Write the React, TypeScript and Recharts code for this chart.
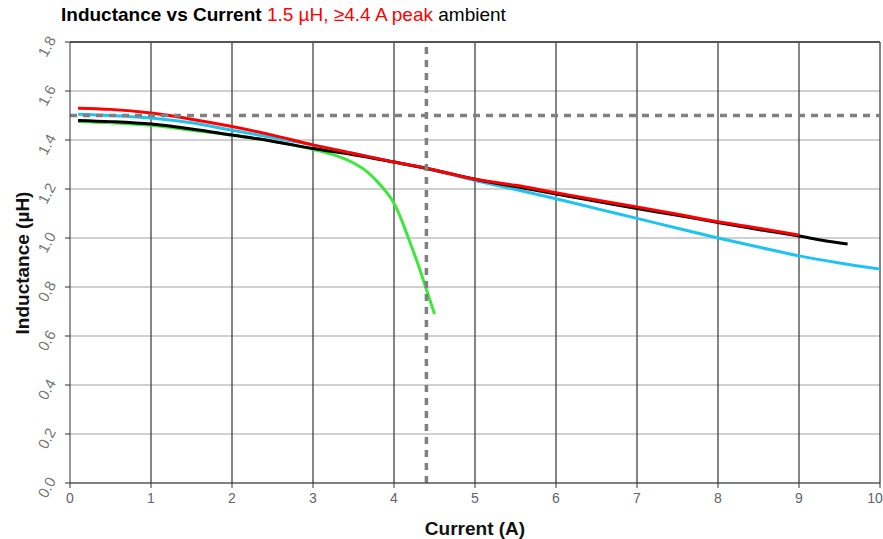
import {
  LineChart,
  Line,
  XAxis,
  YAxis,
  CartesianGrid,
  ReferenceLine,
} from "recharts";

const RED = "#ff0000";
const BLUE = "#1ec3f2";
const BLACK = "#000000";
const GREEN = "#3ce83c";

// Inductance (µH) vs current (A) for four measured curves
const redCurrent = [0.1, 0.5, 1, 1.5, 2, 2.5, 3, 3.5, 4, 4.4, 5, 5.5, 6, 6.5, 7, 7.5, 8, 8.5, 9];
const redL = [1.53, 1.525, 1.51, 1.485, 1.455, 1.42, 1.38, 1.345, 1.31, 1.285, 1.24, 1.215, 1.185, 1.155, 1.127, 1.097, 1.066, 1.04, 1.012];

const blackCurrent = [0.1, 0.5, 1, 1.5, 2, 2.5, 3, 3.5, 4, 4.4, 5, 5.5, 6, 6.5, 7, 7.5, 8, 8.5, 9, 9.3, 9.6];
const blackL = [1.48, 1.475, 1.465, 1.445, 1.42, 1.395, 1.365, 1.34, 1.31, 1.285, 1.24, 1.21, 1.18, 1.15, 1.12, 1.093, 1.063, 1.035, 1.008, 0.99, 0.975];

const blueCurrent = [0.1, 0.5, 1, 1.5, 2, 2.5, 3, 3.5, 4, 4.5, 5, 5.5, 6, 6.5, 7, 7.5, 8, 8.5, 9, 9.5, 10];
const blueL = [1.505, 1.5, 1.49, 1.47, 1.44, 1.41, 1.38, 1.345, 1.31, 1.275, 1.235, 1.198, 1.16, 1.12, 1.08, 1.04, 1.0, 0.963, 0.927, 0.898, 0.873];

const greenCurrent = [0.1, 0.5, 1, 1.5, 2, 2.5, 3, 3.25, 3.5, 3.65, 3.8, 3.9, 3.95, 4, 4.05, 4.1, 4.2, 4.3, 4.4, 4.5];
const greenL = [1.475, 1.47, 1.46, 1.44, 1.42, 1.395, 1.362, 1.34, 1.306, 1.275, 1.228, 1.19, 1.168, 1.142, 1.108, 1.068, 0.98, 0.89, 0.79, 0.69];

const xTicks = [0, 1, 2, 3, 4, 5, 6, 7, 8, 9, 10];
const yTicks = [0, 0.2, 0.4, 0.6, 0.8, 1.0, 1.2, 1.4, 1.6, 1.8];

const RATED_L = 1.5;
const PEAK_I = 4.4;

const toPoints = (xs: number[], ys: number[]) => xs.map((x, i) => ({ x, y: ys[i] }));

const FONT = "'Liberation Sans', Arial, sans-serif";

function YTick({ x, y, payload }: any) {
  const cx = x - 15;
  const cy = y + 5;
  return (
    <text
      x={cx}
      y={cy}
      transform={`rotate(-62 ${cx} ${cy})`}
      textAnchor="middle"
      dominantBaseline="middle"
      fontSize={15}
      fill="#747474"
      fontFamily={FONT}
    >
      {payload.value.toFixed(1)}
    </text>
  );
}

function XTick({ x, y, payload }: any) {
  return (
    <text x={x} y={y + 13} textAnchor="middle" fontSize={14} fill="#5f6470" fontFamily={FONT}>
      {payload.value}
    </text>
  );
}

export default function App() {
  return (
    <div style={{ position: "absolute", left: 0, top: 0, width: 883, height: 539, background: "#fff", fontFamily: FONT }}>
      <div style={{ position: "absolute", left: 61, top: 4, fontSize: 19, whiteSpace: "nowrap" }}>
        <span style={{ fontWeight: "bold", color: "#000" }}>Inductance vs Current </span>
        <span style={{ color: RED }}>1.5 µH, ≥4.4 A peak</span>
        <span style={{ color: "#000" }}> ambient</span>
      </div>
      <div
        style={{
          position: "absolute",
          left: 23,
          top: 263,
          transform: "translate(-50%, -50%) rotate(-90deg)",
          fontSize: 19,
          fontWeight: "bold",
          color: "#111",
          whiteSpace: "nowrap",
        }}
      >
        Inductance (µH)
      </div>
      <LineChart width={883} height={539} margin={{ top: 42, right: 3, bottom: 26, left: 10 }}>
        <CartesianGrid vertical={false} stroke="#d0d0d0" strokeWidth={2} />
        <XAxis
          type="number"
          dataKey="x"
          domain={[0, 10]}
          ticks={xTicks}
          height={30}
          stroke="#333"
          tickSize={5}
          tick={<XTick />}
          label={{ value: "Current (A)", position: "insideBottom", offset: -22, fontSize: 19, fontWeight: "bold", fill: "#111" }}
        />
        <YAxis
          type="number"
          domain={[0, 1.8]}
          ticks={yTicks}
          width={60}
          stroke="#333"
          tickSize={5}
          tick={<YTick />}
        />
        {xTicks.slice(1).map((t) => (
          <ReferenceLine key={t} x={t} stroke="#333" strokeWidth={1.2} />
        ))}
        <ReferenceLine y={1.8} stroke="#555" strokeWidth={2} />
        <Line data={toPoints(greenCurrent, greenL)} dataKey="y" type="monotone" stroke={GREEN} strokeWidth={3} dot={false} isAnimationActive={false} />
        <Line data={toPoints(blueCurrent, blueL)} dataKey="y" type="monotone" stroke={BLUE} strokeWidth={3} dot={false} isAnimationActive={false} />
        <Line data={toPoints(blackCurrent, blackL)} dataKey="y" type="monotone" stroke={BLACK} strokeWidth={3} dot={false} isAnimationActive={false} />
        <Line data={toPoints(redCurrent, redL)} dataKey="y" type="monotone" stroke={RED} strokeWidth={3} dot={false} isAnimationActive={false} />
        <ReferenceLine y={RATED_L} stroke="#808080" strokeWidth={3.5} strokeDasharray="7 6" />
        <ReferenceLine x={PEAK_I} stroke="#808080" strokeWidth={3.5} strokeDasharray="7 6" />
      </LineChart>
    </div>
  );
}
